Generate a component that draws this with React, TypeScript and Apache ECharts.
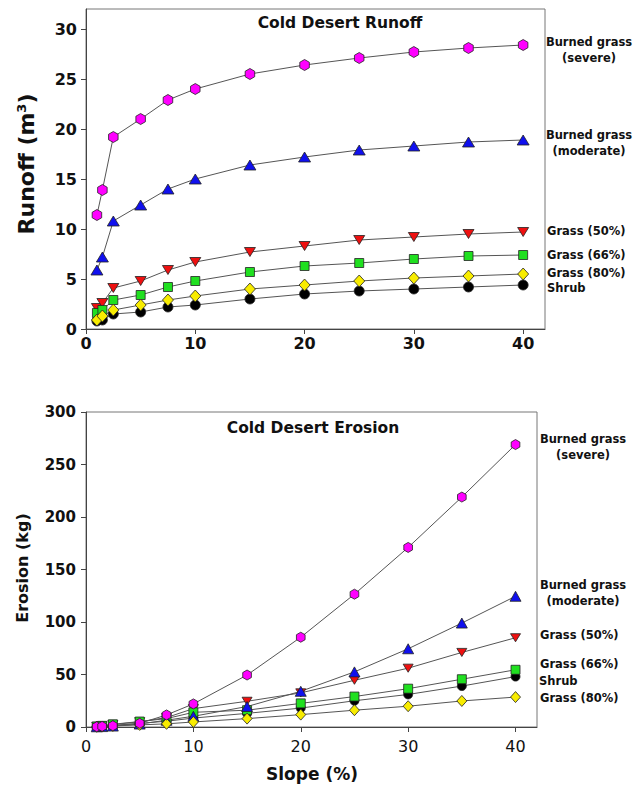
import React, { useEffect, useRef } from "react";
import * as echarts from "echarts";

const slope = [1, 1.5, 2.5, 5, 7.5, 10, 15, 20, 25, 30, 35, 40];

const runoffSevere = [11.4, 13.9, 19.2, 21.0, 22.9, 24.0, 25.5, 26.4, 27.1, 27.7, 28.1, 28.4];
const runoffModerate = [5.9, 7.2, 10.8, 12.4, 14.0, 15.0, 16.4, 17.2, 17.9, 18.3, 18.7, 18.9];
const runoffGrass50 = [2.1, 2.6, 4.1, 4.8, 5.9, 6.7, 7.7, 8.3, 8.9, 9.2, 9.5, 9.7];
const runoffGrass66 = [1.6, 1.9, 2.9, 3.4, 4.2, 4.8, 5.7, 6.3, 6.6, 7.0, 7.3, 7.4];
const runoffGrass80 = [0.9, 1.3, 1.9, 2.4, 2.9, 3.3, 4.0, 4.4, 4.8, 5.1, 5.3, 5.5];
const runoffShrub = [0.8, 0.9, 1.5, 1.7, 2.2, 2.4, 3.0, 3.5, 3.8, 4.0, 4.2, 4.4];

const erosionSevere = [0.3, 0.6, 1.2, 3.5, 11.5, 22, 49.5, 85.5, 126.5, 171, 219, 269];
const erosionModerate = [0.2, 0.4, 0.9, 2.8, 6.5, 10.2, 19.5, 34, 52.5, 74.5, 99, 124.5];
const erosionGrass50 = [0.6, 1.2, 2.3, 5, 9, 17.5, 24.5, 32.5, 44.5, 56, 71, 85];
const erosionGrass66 = [0.5, 1.1, 2.6, 5.2, 8, 14, 16, 22.5, 29, 36.5, 45.5, 54.5];
const erosionShrub = [0.3, 0.6, 1.5, 3.5, 5.5, 8.5, 13, 18, 25, 31, 39, 48];
const erosionGrass80 = [0.2, 0.4, 1.0, 2.0, 3, 4.8, 8, 11.8, 16, 19.8, 24.8, 28.5];

const xTicks = [0, 10, 20, 30, 40];
const runoffTicks = [0, 5, 10, 15, 20, 25, 30];
const erosionTicks = [0, 50, 100, 150, 200, 250, 300];

const FONT = '"DejaVu Sans", "Liberation Sans", Arial, sans-serif';

const HEX = "path://M5,0 L9.33,2.5 L9.33,7.5 L5,10 L0.67,7.5 L0.67,2.5 Z";
const INV_TRI = "path://M0,0 L10,0 L5,9 Z";

const COLORS = {
  severe: "#ff00ff",
  moderate: "#1010ee",
  grass50: "#ee1010",
  grass66: "#20e020",
  grass80: "#f8ec00",
  shrub: "#000000",
};

function mkSeries(
  name: string,
  vals: number[],
  idx: number,
  symbol: string,
  size: number | number[],
  color: string,
  z: number
) {
  return {
    name,
    type: "line",
    xAxisIndex: idx,
    yAxisIndex: idx,
    data: slope.map((x, i) => [x, vals[i]]),
    symbol,
    symbolSize: size,
    symbolKeepAspect: true,
    showAllSymbol: true,
    z,
    lineStyle: { color: "#555", width: 1 },
    itemStyle: { color, borderColor: "#222", borderWidth: 0.8 },
    emphasis: { disabled: true },
  };
}

function label(text: string, x: number, y: number, align: string, fontSize: number) {
  return {
    type: "text",
    x,
    y,
    style: {
      text,
      fill: "#111",
      fontFamily: FONT,
      fontWeight: "bold",
      fontSize,
      align,
      verticalAlign: "middle",
      lineHeight: 16,
    },
  };
}

export default function App() {
  const ref = useRef<HTMLDivElement>(null);

  useEffect(() => {
    if (!ref.current) return;
    const chart = echarts.init(ref.current, undefined, { renderer: "svg" });

    const xAxisCommon = (top: boolean) => ({
      type: "value",
      min: 0,
      max: 42,
      interval: 10,
      axisLine: { show: true, lineStyle: { color: "#444", width: 1 } },
      axisTick: { show: true, inside: false, length: 5, lineStyle: { color: "#444" }, customValues: xTicks },
      axisLabel: {
        customValues: xTicks,
        margin: top ? 6 : 11,
        color: "#111",
        fontFamily: FONT,
        fontWeight: top ? "bold" : "normal",
        fontSize: 16,
      },
      splitLine: { show: false },
    });

    const option = {
      animation: false,
      backgroundColor: "#ffffff",
      grid: [
        { left: 86, top: 9, width: 459, height: 320, show: true, borderColor: "#777", borderWidth: 1 },
        { left: 86, top: 412, width: 451, height: 315, show: true, borderColor: "#777", borderWidth: 1 },
      ],
      xAxis: [
        { ...xAxisCommon(true), gridIndex: 0 },
        { ...xAxisCommon(false), gridIndex: 1 },
      ],
      yAxis: [
        {
          type: "value",
          gridIndex: 0,
          min: 0,
          max: 32,
          interval: 5,
          axisLine: { show: true, lineStyle: { color: "#444", width: 1 } },
          axisTick: { show: true, inside: false, length: 5, lineStyle: { color: "#444" }, customValues: runoffTicks },
          axisLabel: {
            customValues: runoffTicks,
            margin: 9,
            color: "#111",
            fontFamily: FONT,
            fontWeight: "bold",
            fontSize: 16,
          },
          splitLine: { show: false },
        },
        {
          type: "value",
          gridIndex: 1,
          min: 0,
          max: 300,
          interval: 50,
          axisLine: { show: true, lineStyle: { color: "#444", width: 1 } },
          axisTick: { show: true, inside: false, length: 5, lineStyle: { color: "#444" }, customValues: erosionTicks },
          axisLabel: {
            customValues: erosionTicks,
            margin: 10,
            color: "#111",
            fontFamily: FONT,
            fontWeight: "bold",
            fontSize: 15,
          },
          splitLine: { show: false },
        },
      ],
      series: [
        mkSeries("Burned grass (moderate)", runoffModerate, 0, "triangle", [12, 10], COLORS.moderate, 2),
        mkSeries("Burned grass (severe)", runoffSevere, 0, HEX, 11, COLORS.severe, 2),
        mkSeries("Grass (50%)", runoffGrass50, 0, INV_TRI, [11, 10], COLORS.grass50, 2),
        mkSeries("Grass (66%)", runoffGrass66, 0, "rect", 9, COLORS.grass66, 2),
        mkSeries("Shrub", runoffShrub, 0, "circle", 10, COLORS.shrub, 2),
        mkSeries("Grass (80%)", runoffGrass80, 0, "diamond", [11, 12], COLORS.grass80, 2),

        mkSeries("Shrub", erosionShrub, 1, "circle", 9, COLORS.shrub, 2),
        mkSeries("Grass (50%)", erosionGrass50, 1, INV_TRI, [10, 9], COLORS.grass50, 2),
        mkSeries("Grass (66%)", erosionGrass66, 1, "rect", 9, COLORS.grass66, 2),
        mkSeries("Burned grass (moderate)", erosionModerate, 1, "triangle", [11, 10], COLORS.moderate, 2),
        mkSeries("Grass (80%)", erosionGrass80, 1, "diamond", [10, 11], COLORS.grass80, 2),
        mkSeries("Burned grass (severe)", erosionSevere, 1, HEX, 10, COLORS.severe, 2),
      ],
      graphic: [
        {
          type: "text",
          x: 340,
          y: 23,
          style: {
            text: "Cold Desert Runoff",
            fill: "#111",
            fontFamily: FONT,
            fontWeight: "bold",
            fontSize: 15.5,
            align: "center",
            verticalAlign: "middle",
          },
        },
        {
          type: "text",
          x: 313,
          y: 428,
          style: {
            text: "Cold Desert Erosion",
            fill: "#111",
            fontFamily: FONT,
            fontWeight: "bold",
            fontSize: 15.5,
            align: "center",
            verticalAlign: "middle",
          },
        },
        {
          type: "text",
          x: 26,
          y: 164,
          rotation: Math.PI / 2,
          style: {
            text: "{a|Runoff (m}{s|3}{a|)}",
            fill: "#111",
            align: "center",
            verticalAlign: "middle",
            rich: {
              a: { fontFamily: FONT, fontWeight: "bold", fontSize: 22, fill: "#111", verticalAlign: "bottom" },
              s: { fontFamily: FONT, fontWeight: "bold", fontSize: 13, fill: "#111", verticalAlign: "top" },
            },
          },
        },
        {
          type: "text",
          x: 22,
          y: 568,
          rotation: Math.PI / 2,
          style: {
            text: "Erosion (kg)",
            fill: "#111",
            fontFamily: FONT,
            fontWeight: "bold",
            fontSize: 16,
            align: "center",
            verticalAlign: "middle",
          },
        },
        {
          type: "text",
          x: 312,
          y: 774,
          style: {
            text: "Slope (%)",
            fill: "#111",
            fontFamily: FONT,
            fontWeight: "bold",
            fontSize: 17,
            align: "center",
            verticalAlign: "middle",
          },
        },
        label("Burned grass\n(severe)", 589, 50, "center", 11.5),
        label("Burned grass\n(moderate)", 589, 143, "center", 11.5),
        label("Grass (50%)", 547, 231, "left", 11.5),
        label("Grass (66%)", 547, 255, "left", 11.5),
        label("Grass (80%)", 547, 273, "left", 11.5),
        label("Shrub", 547, 288, "left", 11.5),

        label("Burned grass\n(severe)", 583, 447, "center", 11.5),
        label("Burned grass\n(moderate)", 583, 593, "center", 11.5),
        label("Grass (50%)", 540, 635, "left", 11.5),
        label("Grass (66%)", 540, 664, "left", 11.5),
        label("Shrub", 539, 681, "left", 11.5),
        label("Grass (80%)", 540, 698, "left", 11.5),
      ],
    };

    chart.setOption(option as any);
    return () => chart.dispose();
  }, []);

  return (
    <div
      ref={ref}
      style={{ position: "absolute", left: 0, top: 0, width: 633, height: 785 }}
    />
  );
}
